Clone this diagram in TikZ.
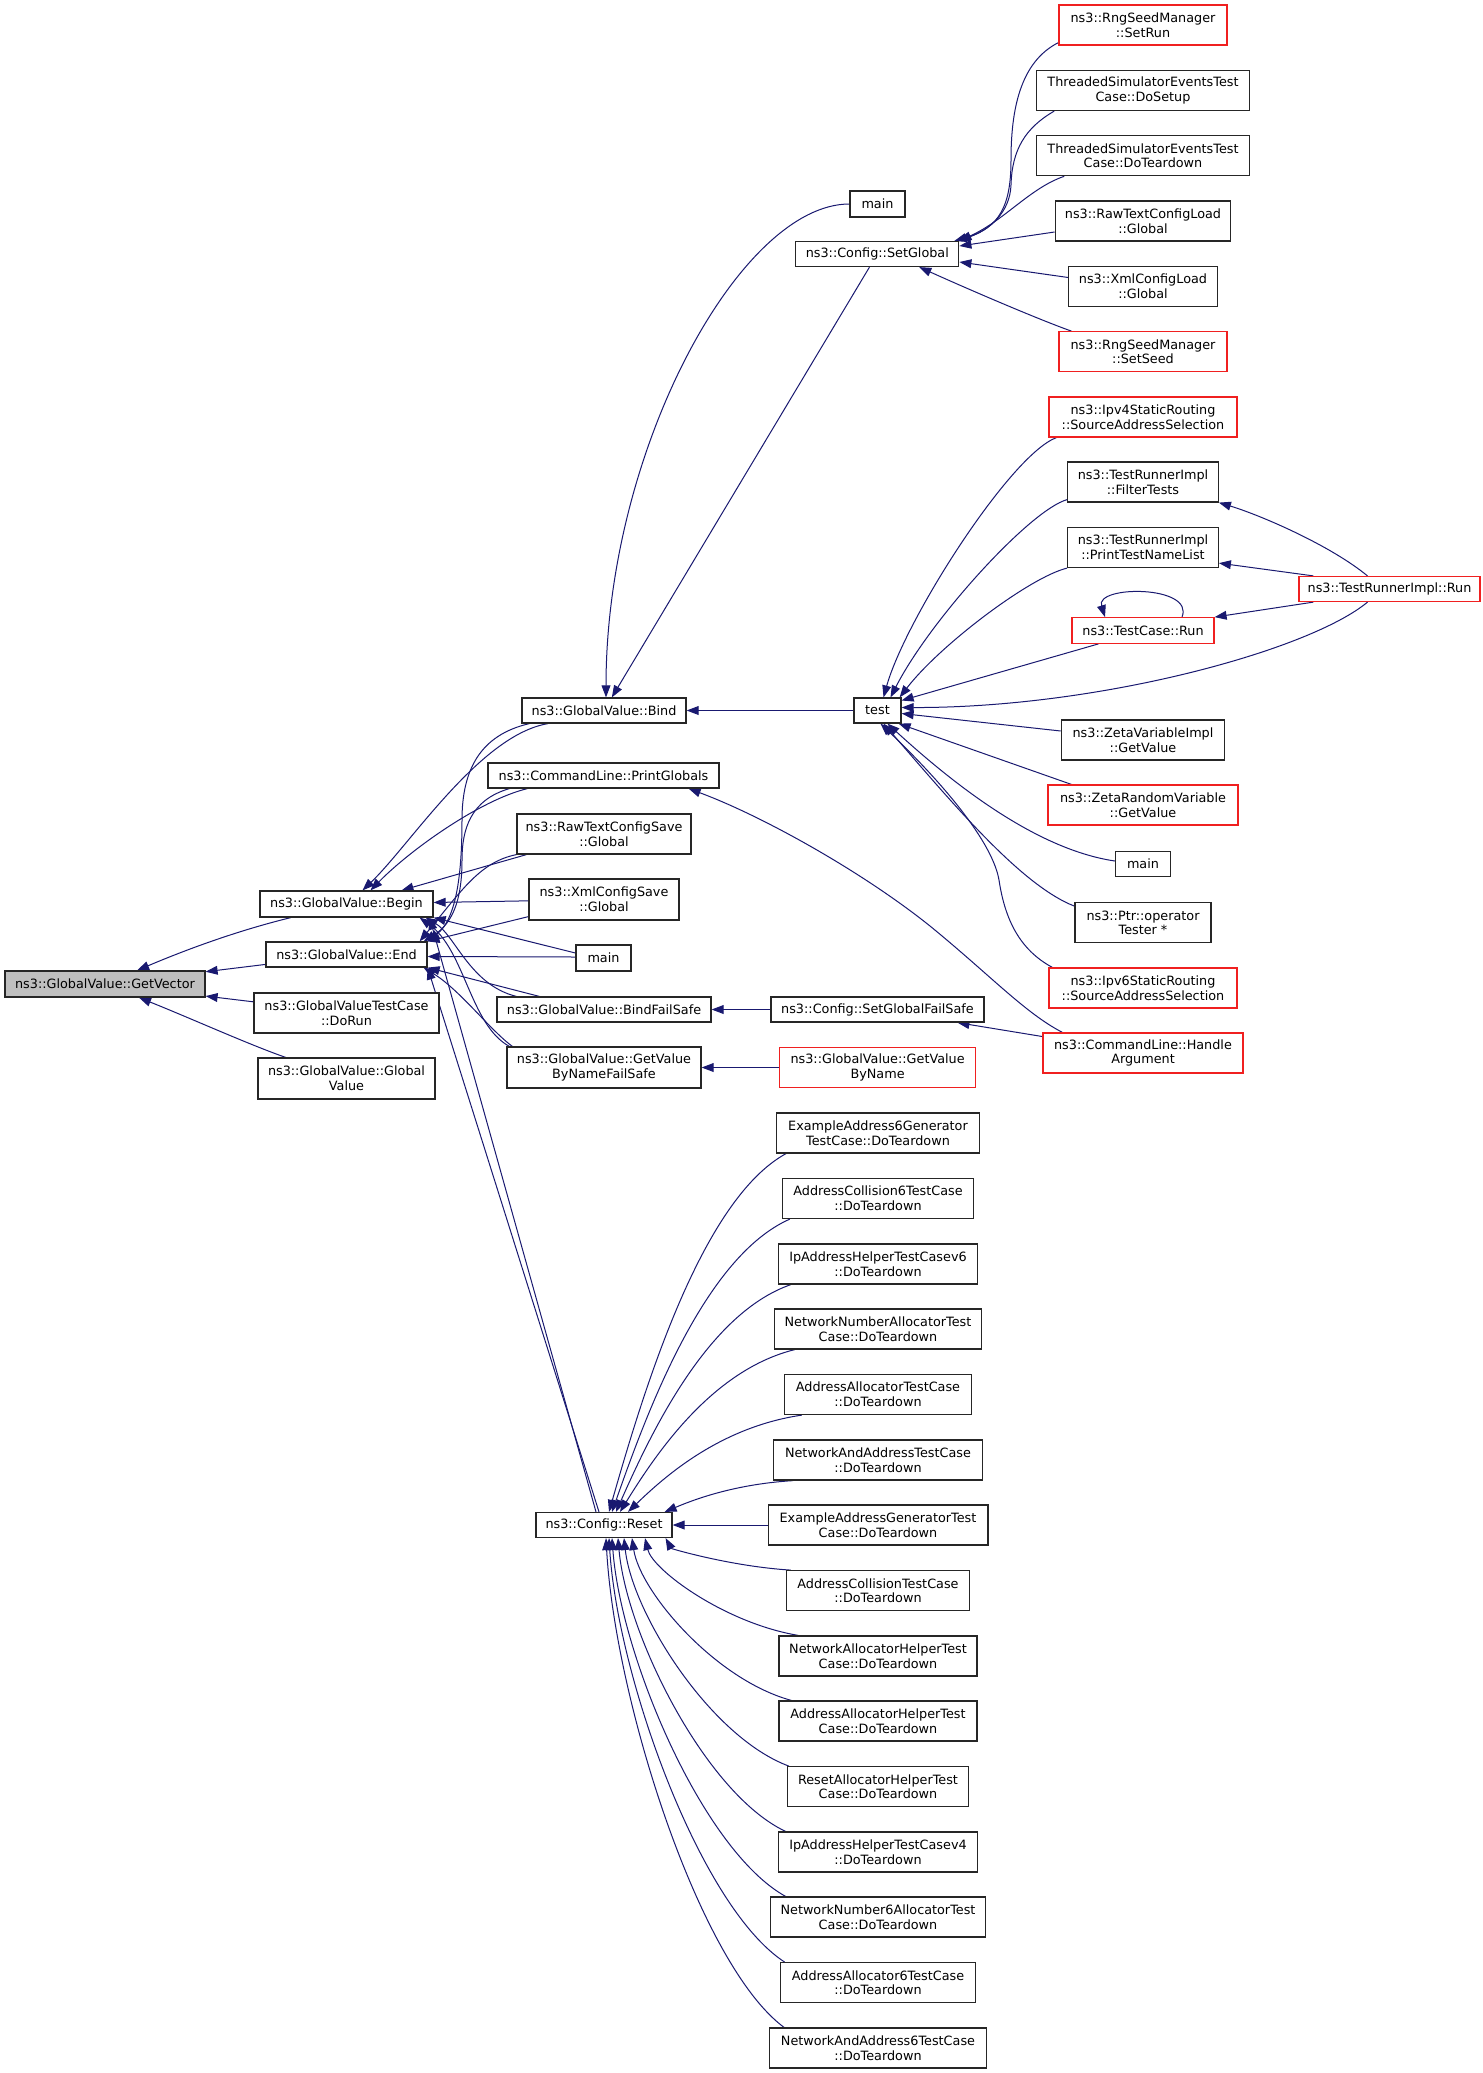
\documentclass[tikz,border=0pt]{standalone}
\usepackage{fontspec}
\setmainfont{DejaVu Sans}
\usetikzlibrary{arrows.meta,calc}
\definecolor{mblue}{HTML}{191970}
\definecolor{gfill}{HTML}{BFBFBF}
\definecolor{rline}{HTML}{F02020}
\pgfdeclarelayer{back}
\pgfdeclarelayer{edges}
\pgfsetlayers{back,edges,main}
\tikzset{
  nd/.style={draw=black!85, line width=0.6pt, fill=white, inner sep=0pt, align=center,
    font=\fontsize{6.4pt}{7.3pt}\selectfont, text=black},
  rd/.style={nd, draw=rline},
  ed/.style={draw=mblue, line width=0.5pt, -{Triangle[length=6pt,width=4.4pt]}},
}
\begin{document}
\begin{tikzpicture}[x=0.5pt,y=-0.5pt]
\begin{pgfonlayer}{back}
\fill[white] (0,0) rectangle (1483,2073);
\end{pgfonlayer}
\useasboundingbox (0,0) rectangle (1483,2073);

% ---- column 1
\node[nd, fill=gfill, minimum width=100pt, minimum height=13pt] (GV) at (105,984) {ns3::GlobalValue::GetVector};
% ---- column 2
\node[nd, minimum width=86.5pt, minimum height=13pt] (Begin) at (346.5,904) {ns3::GlobalValue::Begin};
\node[nd, minimum width=80.5pt, minimum height=12.5pt] (End) at (346.5,954.5) {ns3::GlobalValue::End};
\node[nd, minimum width=92.5pt, minimum height=20pt] (DoRun) at (346.5,1013) {ns3::GlobalValueTestCase\\::DoRun};
\node[nd, minimum width=88.5pt, minimum height=20.5pt] (GVGlobal) at (346.5,1078.5) {ns3::GlobalValue::Global\\Value};
% ---- column 3
\node[nd, minimum width=82pt, minimum height=12.5pt] (Bind) at (604,710.5) {ns3::GlobalValue::Bind};
\node[nd, minimum width=115.5pt, minimum height=12.5pt] (PrintGlobals) at (603.5,775.5) {ns3::CommandLine::PrintGlobals};
\node[nd, minimum width=87pt, minimum height=20pt] (RawSave) at (604,834) {ns3::RawTextConfigSave\\::Global};
\node[nd, minimum width=75pt, minimum height=20.5pt] (XmlSave) at (604,899.5) {ns3::XmlConfigSave\\::Global};
\node[nd, minimum width=27.5pt, minimum height=13pt] (mainM) at (603.5,958) {main};
\node[nd, minimum width=107pt, minimum height=12.5pt] (BindFS) at (604,1009.5) {ns3::GlobalValue::BindFailSafe};
\node[nd, minimum width=97pt, minimum height=20.5pt] (GVBNFS) at (604,1067.5) {ns3::GlobalValue::GetValue\\ByNameFailSafe};
\node[nd, minimum width=68pt, minimum height=12.5pt] (Reset) at (604,1525) {ns3::Config::Reset};
% ---- column 4
\node[nd, minimum width=27.5pt, minimum height=13pt] (mainT) at (877.5,204) {main};
\node[nd, minimum width=81.5pt, minimum height=12.5pt] (SetGlobal) at (877.3,254) {ns3::Config::SetGlobal};
\node[nd, minimum width=23.5pt, minimum height=12.5pt] (test) at (877.5,710.5) {test};
\node[nd, minimum width=106.5pt, minimum height=12.5pt] (SetGFS) at (877.5,1009.5) {ns3::Config::SetGlobalFailSafe};
\node[rd, minimum width=98pt, minimum height=20pt] (GVBN) at (877.6,1067.5) {ns3::GlobalValue::GetValue\\ByName};
\node[nd, minimum width=101.4pt, minimum height=20pt] (td1) at (878,1133) {ExampleAddress6Generator\\TestCase::DoTeardown};
\node[nd, minimum width=95.6pt, minimum height=20pt] (td2) at (878,1198.5) {AddressCollision6TestCase\\::DoTeardown};
\node[nd, minimum width=99.6pt, minimum height=20pt] (td3) at (878,1264) {IpAddressHelperTestCasev6\\::DoTeardown};
\node[nd, minimum width=103.7pt, minimum height=20pt] (td4) at (878,1329) {NetworkNumberAllocatorTest\\Case::DoTeardown};
\node[nd, minimum width=93.6pt, minimum height=20pt] (td5) at (878,1394.5) {AddressAllocatorTestCase\\::DoTeardown};
\node[nd, minimum width=104.2pt, minimum height=20pt] (td6) at (878,1460) {NetworkAndAddressTestCase\\::DoTeardown};
\node[nd, minimum width=109.9pt, minimum height=20pt] (td7) at (878,1525) {ExampleAddressGeneratorTest\\Case::DoTeardown};
\node[nd, minimum width=91.5pt, minimum height=20pt] (td8) at (878,1590.7) {AddressCollisionTestCase\\::DoTeardown};
\node[nd, minimum width=99pt, minimum height=20pt] (td9) at (878,1656) {NetworkAllocatorHelperTest\\Case::DoTeardown};
\node[nd, minimum width=99pt, minimum height=20pt] (td10) at (878,1721) {AddressAllocatorHelperTest\\Case::DoTeardown};
\node[nd, minimum width=90.5pt, minimum height=20pt] (td11) at (878,1786.7) {ResetAllocatorHelperTest\\Case::DoTeardown};
\node[nd, minimum width=99.8pt, minimum height=20pt] (td12) at (878,1852) {IpAddressHelperTestCasev4\\::DoTeardown};
\node[nd, minimum width=107.8pt, minimum height=20pt] (td13) at (878,1917) {NetworkNumber6AllocatorTest\\Case::DoTeardown};
\node[nd, minimum width=97.7pt, minimum height=20pt] (td14) at (878,1982.7) {AddressAllocator6TestCase\\::DoTeardown};
\node[nd, minimum width=108.3pt, minimum height=20pt] (td15) at (878,2048) {NetworkAndAddress6TestCase\\::DoTeardown};
% ---- column 5
\node[rd, minimum width=84pt, minimum height=20pt] (SetRun) at (1143,25) {ns3::RngSeedManager\\::SetRun};
\node[nd, minimum width=106.2pt, minimum height=20pt] (DoSetup) at (1143,90.5) {ThreadedSimulatorEventsTest\\Case::DoSetup};
\node[nd, minimum width=106.2pt, minimum height=20pt] (DoTeardownT) at (1143,155.7) {ThreadedSimulatorEventsTest\\Case::DoTeardown};
\node[nd, minimum width=87.8pt, minimum height=20pt] (RawLoad) at (1143,221) {ns3::RawTextConfigLoad\\::Global};
\node[nd, minimum width=74.3pt, minimum height=20pt] (XmlLoad) at (1143,286.5) {ns3::XmlConfigLoad\\::Global};
\node[rd, minimum width=84pt, minimum height=20pt] (SetSeed) at (1143,351.7) {ns3::RngSeedManager\\::SetSeed};
\node[rd, minimum width=94pt, minimum height=20pt] (Ipv4) at (1143,417) {ns3::Ipv4StaticRouting\\::SourceAddressSelection};
\node[nd, minimum width=75.3pt, minimum height=20pt] (FilterTests) at (1143,482) {ns3::TestRunnerImpl\\::FilterTests};
\node[nd, minimum width=75.3pt, minimum height=20pt] (PrintTNL) at (1143,547.5) {ns3::TestRunnerImpl\\::PrintTestNameList};
\node[rd, minimum width=71pt, minimum height=12.8pt] (TCRun) at (1143,630.5) {ns3::TestCase::Run};
\node[nd, minimum width=81.7pt, minimum height=20pt] (ZetaVI) at (1143,740) {ns3::ZetaVariableImpl\\::GetValue};
\node[rd, minimum width=95pt, minimum height=20pt] (ZetaRV) at (1143,805) {ns3::ZetaRandomVariable\\::GetValue};
\node[nd, minimum width=27.5pt, minimum height=12.8pt] (mainR) at (1143,864) {main};
\node[nd, minimum width=68pt, minimum height=20pt] (Ptr) at (1143,922.7) {ns3::Ptr::operator\\Tester *};
\node[rd, minimum width=94pt, minimum height=20pt] (Ipv6) at (1143,988) {ns3::Ipv6StaticRouting\\::SourceAddressSelection};
\node[rd, minimum width=100pt, minimum height=20pt] (HandleArg) at (1143,1053) {ns3::CommandLine::Handle\\Argument};
% ---- column 6
\node[rd, minimum width=90.5pt, minimum height=12.5pt] (TRRun) at (1389.5,589) {ns3::TestRunnerImpl::Run};

\begin{pgfonlayer}{edges}
% GetVector callers
\draw[ed] (Begin) .. controls (240,930) and (190,948) .. (GV);
\draw[ed] (End) -- (GV);
\draw[ed] (DoRun) -- (GV);
\draw[ed] (GVGlobal) .. controls (250,1045) and (190,1018) .. (GV);
% Begin callers
\draw[ed] ($(Bind.south)+(-56,0)$) .. controls (480,735) and (410,845) .. ($(Begin.north)+(16,0)$);
\draw[ed] ($(PrintGlobals.south west)+(40,0)$) .. controls (480,800) and (410,850) .. ($(Begin.north)+(24,0)$);
\draw[ed] ($(RawSave.south west)+(10,0)$) -- ($(Begin.north)+(55,0)$);
\draw[ed] (XmlSave) -- (Begin);
\draw[ed] ($(mainM.west)+(0,-5)$) -- (Begin.south east);
\draw[ed] ($(BindFS.north west)+(20,0)$) .. controls (470,985) and (455,935) .. ($(Begin.south east)+(-8,0)$);
\draw[ed] ($(GVBNFS.north west)+(3,0)$) .. controls (470,1025) and (465,950) .. ($(Begin.south east)+(-14,0)$);
\draw[ed] ($(Reset.north)+(-8,0)$) -- ($(Begin.south east)+(-4,0)$);
% End callers
\draw[ed] ($(Bind.south west)+(8,0)$) .. controls (480,735) and (462,770) .. (462,820) .. controls (462,880) and (455,920) .. (End.north east);
\draw[ed] ($(PrintGlobals.south west)+(22,0)$) .. controls (470,800) and (462,830) .. (462,860) .. controls (462,895) and (455,922) .. ($(End.north east)+(-4,0)$);
\draw[ed] (RawSave.south west) .. controls (480,862) and (462,890) .. ($(End.north east)+(-8,0)$);
\draw[ed] ($(XmlSave.south west)+(0,-4)$) -- (End.north east);
\draw[ed] ($(mainM.west)+(0,-1)$) -- ($(End.east)+(0,2)$);
\draw[ed] ($(BindFS.north west)+(43,0)$) -- (End.south east);
\draw[ed] ($(GVBNFS.north west)+(6,0)$) .. controls (490,1030) and (460,990) .. ($(End.south east)+(-4,0)$);
\draw[ed] ($(Reset.north)+(-5,0)$) -- (End.south east);
% Bind callers
\draw[ed] (mainT.west) .. controls (740,204) and (606,450) .. ($(Bind.north)+(2,0)$);
\draw[ed] (SetGlobal) -- (Bind);
\draw[ed] (test) -- (Bind);
% others in column 3/4
\draw[ed] ($(HandleArg.north west)+(20,0)$) .. controls (1025,1013) and (990,975) .. (930,926) .. controls (860,870) and (760,815) .. ($(PrintGlobals.south east)+(-31,0)$);
\draw[ed] (HandleArg) -- (SetGFS);
\draw[ed] (SetGFS) -- (BindFS);
\draw[ed] (GVBN) -- (GVBNFS);
% SetGlobal callers
\draw[ed] ($(SetRun.south west)+(0,-3)$) .. controls (1020,62) and (1011,110) .. (1011,160) .. controls (1011,205) and (1000,228) .. ($(SetGlobal.north east)+(-5,0)$);
\draw[ed] ($(DoSetup.south west)+(18,0)$) .. controls (1025,128) and (1012,150) .. (1011,185) .. controls (1010,212) and (990,230) .. ($(SetGlobal.north east)+(-2,0)$);
\draw[ed] ($(DoTeardownT.south west)+(28,0)$) .. controls (1030,188) and (1005,220) .. (SetGlobal.north east);
\draw[ed] ($(RawLoad.west)+(0,11)$) -- ($(SetGlobal.east)+(0,-8)$);
\draw[ed] ($(XmlLoad.west)+(0,-9)$) -- ($(SetGlobal.east)+(0,8)$);
\draw[ed] ($(SetSeed.north west)+(13,0)$) .. controls (1040,320) and (970,290) .. ($(SetGlobal.south)+(42,0)$);
% test callers
\draw[ed] ($(Ipv4.south west)+(8,0)$) .. controls (1010,455) and (905,620) .. ($(test.north)+(6,0)$);
\draw[ed] ($(FilterTests.south west)+(0,-3)$) .. controls (1030,510) and (930,620) .. ($(test.north)+(13,0)$);
\draw[ed] (PrintTNL.south west) .. controls (1030,577) and (940,645) .. ($(test.north east)+(-2,0)$);
\draw[ed] ($(TCRun.south west)+(27,0)$) -- ($(test.east)+(0,-10)$);
\draw[ed] ($(TRRun.south)+(-22,0)$) .. controls (1310,650) and (1100,708) .. ($(test.east)+(0,-3)$);
\draw[ed] ($(ZetaVI.west)+(0,-9)$) -- ($(test.east)+(0,3)$);
\draw[ed] ($(ZetaRV.north west)+(24,0)$) -- ($(test.south east)+(-3,0)$);
\draw[ed] ($(mainR.west)+(0,-3)$) .. controls (1040,850) and (960,790) .. ($(test.south)+(10,0)$);
\draw[ed] ($(Ptr.north west)+(0,4)$) .. controls (1020,885) and (950,800) .. ($(test.south)+(6,0)$);
\draw[ed] ($(Ipv6.north west)+(4,0)$) .. controls (1020,950) and (1005,920) .. (999,880) .. controls (993,845) and (950,790) .. ($(test.south)+(3,0)$);
% TestRunnerImpl::Run callers
\draw[ed] ($(TRRun.north)+(-22,0)$) .. controls (1330,545) and (1260,515) .. (FilterTests.south east);
\draw[ed] ($(TRRun.north west)+(15,0)$) -- ($(PrintTNL.south east)+(0,-5)$);
\draw[ed] ($(TRRun.south west)+(15,0)$) -- (TCRun.north east);
\draw[ed] ($(TCRun.north)+(39,0)$) .. controls (1195,585) and (1095,585) .. ($(TCRun.north)+(-38,0)$);
% Reset callers
\draw[ed] ($(td1.south west)+(10,0)$) .. controls (701.8,1199.8) and (644.7,1386.8) .. ($(Reset.north)+(5,0)$);
\draw[ed] ($(td2.south west)+(8,0)$) .. controls (704.8,1256.6) and (647.7,1409.7) .. ($(Reset.north)+(8,0)$);
\draw[ed] ($(td3.south west)+(13,0)$) .. controls (707.2,1313.7) and (651.1,1432.7) .. ($(Reset.north)+(12,0)$);
\draw[ed] ($(td4.south west)+(21,0)$) .. controls (711.2,1370.3) and (655,1455.4) .. ($(Reset.north)+(16,0)$);
\draw[ed] ($(td5.south west)+(18,0)$) .. controls (718.7,1427.3) and (662.9,1478.3) .. ($(Reset.north)+(24,0)$);
\draw[ed] ($(td6.south west)+(20,0)$) .. controls (731.5,1484.3) and (690,1501.3) .. ($(Reset.north east)+(-8,0)$);
\draw[ed] (td7) -- (Reset);
\draw[ed] ($(td8.north west)+(5,0)$) .. controls (730.8,1566.4) and (671.3,1548.6) .. ($(Reset.south east)+(-7,0)$);
\draw[ed] ($(td9.north west)+(20,0)$) .. controls (725.1,1623.2) and (652.7,1570.1) .. ($(Reset.south)+(41,0)$);
\draw[ed] ($(td10.north west)+(13,0)$) .. controls (715.2,1679.8) and (640,1591.6) .. ($(Reset.south)+(28,0)$);
\draw[ed] ($(td11.north west)+(2,0)$) .. controls (710.1,1736.9) and (632.3,1613.3) .. ($(Reset.south)+(20,0)$);
\draw[ed] ($(td12.north west)+(8,0)$) .. controls (705.5,1793.7) and (626.4,1634.8) .. ($(Reset.south)+(14,0)$);
\draw[ed] ($(td13.north west)+(16,0)$) .. controls (702.5,1850.3) and (620.7,1656.3) .. ($(Reset.south)+(8,0)$);
\draw[ed] ($(td14.north west)+(5,0)$) .. controls (700.5,1907.5) and (617.8,1678) .. ($(Reset.south)+(5,0)$);
\draw[ed] ($(td15.north west)+(15,0)$) .. controls (698.9,1964.3) and (614.9,1699.5) .. ($(Reset.south)+(2,0)$);
\end{pgfonlayer}
\end{tikzpicture}
\end{document}
